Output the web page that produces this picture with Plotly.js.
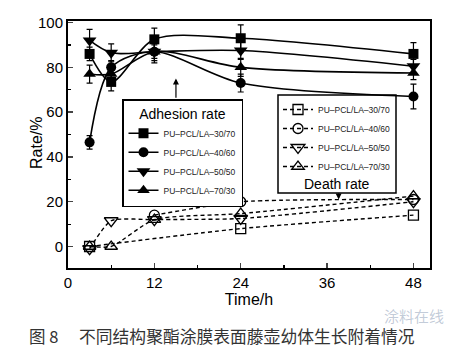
<!DOCTYPE html>
<html><head><meta charset="utf-8">
<script src="https://cdn.plot.ly/plotly-3.0.1.min.js"></script>
<style>html,body{margin:0;padding:0;background:#fff}</style>
</head><body><div id="chart" style="width:462px;height:352px"></div>
<script>
// ---- data ----
const times = [3, 6, 12, 24, 48];
const seriesNames = ['PU–PCL/LA–30/70', 'PU–PCL/LA–40/60', 'PU–PCL/LA–50/50', 'PU–PCL/LA–70/30'];
// Adhesion rate (%)
const adh3070 = [86, 73.5, 92.5, 93, 86];
const adh4060 = [46.5, 80, 87, 73, 67];
const adh5050 = [92, 86.5, 87, 87.5, 80.5];
const adh7030 = [77, 77, 87, 80, 77.5];
// Adhesion error bars
const err3070 = [3, 4, 5, 6, 5];
const err4060 = [3, 3, 5, 4, 5.5];
const err5050 = [5, 4, 3, 4, 3];
const err7030 = [4, 3, 4, 4, 3];
// Death rate (%)
const dth3070 = [0, null, null, 8, 14];
const dth4060 = [null, null, 14, 20, 21];
const dth5050 = [-1, 11.5, 12, 12.5, 20];
const dth7030 = [0, 0, 12, 14.7, 22.5];
// ticks
const xTicks = [0, 12, 24, 36, 48];
const xMinor = [6, 18, 30, 42];
const yTicks = [0, 20, 40, 60, 80, 100];

const adh = [adh3070, adh4060, adh5050, adh7030];
const errs = [err3070, err4060, err5050, err7030];
const dth = [dth3070, dth4060, dth5050, dth7030];
const filled = ['square', 'circle', 'triangle-down', 'triangle-up'];
const open = ['square-open', 'circle-open', 'triangle-down-open', 'triangle-up-open'];
const sizes = [10, 10, 12, 11];

const traces = [];
for (let i = 0; i < 4; i++) {
  traces.push({
    x: times, y: adh[i], name: seriesNames[i], mode: 'lines+markers', legend: 'legend',
    line: {color: '#000', width: 1.6, shape: 'spline', smoothing: 0.85},
    marker: {symbol: filled[i], size: sizes[i], color: '#000'},
    error_y: {type: 'data', array: errs[i], visible: true, color: '#000', thickness: 1.2, width: 3},
    cliponaxis: false
  });
}
for (let i = 0; i < 4; i++) {
  traces.push({
    x: times, y: dth[i], name: seriesNames[i], mode: 'lines+markers', legend: 'legend2',
    connectgaps: true,
    line: {color: '#000', width: 1.4, dash: '4px,3px', shape: 'spline', smoothing: 0.6},
    marker: {symbol: open[i], size: sizes[i], color: '#000', line: {width: 1.3, color: '#000'}},
    cliponaxis: false
  });
}

const font = 'Liberation Sans, Arial, sans-serif';
const px2x = p => (p - 68) / 362;   // pixel -> paper x
const px2y = p => (268 - p) / 247;  // pixel -> paper y
const layout = {
  width: 462, height: 352,
  margin: {l: 68, r: 32, t: 21, b: 84},
  paper_bgcolor: '#fff', plot_bgcolor: '#fff',
  font: {family: font, color: '#000', size: 15},
  showlegend: true,
  xaxis: {
    range: [0, 50.3], tickvals: xTicks, ticks: 'inside', ticklen: 5, tickwidth: 1.5,
    tickfont: {size: 15}, showline: true, linewidth: 2, linecolor: '#000', mirror: true,
    showgrid: false, zeroline: false,
    minor: {tickvals: xMinor, ticks: 'inside', ticklen: 3, tickwidth: 1.2, tickcolor: '#000'},
    title: {text: 'Time/h', font: {size: 16}, standoff: 4}
  },
  yaxis: {
    range: [-9.6, 100.7], tickvals: yTicks, ticks: 'inside', ticklen: 5, tickwidth: 1.5,
    tickfont: {size: 15}, showline: true, linewidth: 2, linecolor: '#000', mirror: true,
    showgrid: false, zeroline: false,
    minor: {dtick: 10, ticks: 'inside', ticklen: 3, tickwidth: 1.2, tickcolor: '#000'}
  },
  legend: {
    x: px2x(122), y: px2y(99), xanchor: 'left', yanchor: 'top',
    bgcolor: '#fff', bordercolor: '#000', borderwidth: 1.5,
    font: {size: 8.5, family: font, color: '#222'}, itemwidth: 30, tracegroupgap: 0,
    title: {text: 'Adhesion rate', font: {size: 14, family: font, color: '#000'}, side: 'top center'}
  },
  legend2: {
    x: px2x(278), y: px2y(95), xanchor: 'left', yanchor: 'top',
    bgcolor: 'rgba(0,0,0,0)', borderwidth: 0,
    font: {size: 8.5, family: font, color: '#222'}, itemwidth: 30, tracegroupgap: 0
  },
  shapes: [
    {type: 'rect', xref: 'paper', yref: 'paper', x0: px2x(278), x1: px2x(396), y0: px2y(193), y1: px2y(95),
     line: {color: '#000', width: 1.5}, fillcolor: 'rgba(0,0,0,0)', layer: 'above'}
  ],
  annotations: [
    {xref: 'paper', yref: 'paper', x: px2x(36.5), y: px2y(143.5), xanchor: 'center', yanchor: 'middle',
     text: 'Rate/%', textangle: -90, showarrow: false, font: {size: 16, family: font}},
    {xref: 'paper', yref: 'paper', x: px2x(337), y: px2y(184), xanchor: 'center', yanchor: 'middle',
     text: 'Death rate', showarrow: false, font: {size: 14, family: font}},
    {x: 15, y: 75, ax: 15, ay: 65.8, axref: 'x', ayref: 'y', xref: 'x', yref: 'y', text: '',
     showarrow: true, arrowhead: 2, arrowsize: 1, arrowwidth: 1.2, arrowcolor: '#000'},
    {x: 37.6, y: 21.0, ax: 37.6, ay: 24.3, axref: 'x', ayref: 'y', xref: 'x', yref: 'y', text: '',
     showarrow: true, arrowhead: 2, arrowsize: 1, arrowwidth: 1.2, arrowcolor: '#000'},
    {xref: 'paper', yref: 'paper', x: px2x(27), y: px2y(336), xanchor: 'left', yanchor: 'middle',
     text: '图 8', showarrow: false, font: {size: 16.5, family: 'Noto Sans CJK SC', color: '#333'}},
    {xref: 'paper', yref: 'paper', x: px2x(77), y: px2y(336), xanchor: 'left', yanchor: 'middle',
     text: '不同结构聚酯涂膜表面藤壶幼体生长附着情况', showarrow: false,
     font: {size: 16.8, family: 'Noto Sans CJK SC', color: '#333'}},
    {xref: 'paper', yref: 'paper', x: px2x(414), y: px2y(315), xanchor: 'center', yanchor: 'middle',
     text: '涂料在线', showarrow: false, borderpad: 0,
     font: {size: 15, family: 'Noto Sans CJK SC', color: 'rgba(120,140,170,0.45)'}}
  ]
};

Plotly.newPlot('chart', traces, layout, {displayModeBar: false, staticPlot: true});
</script></body></html>
